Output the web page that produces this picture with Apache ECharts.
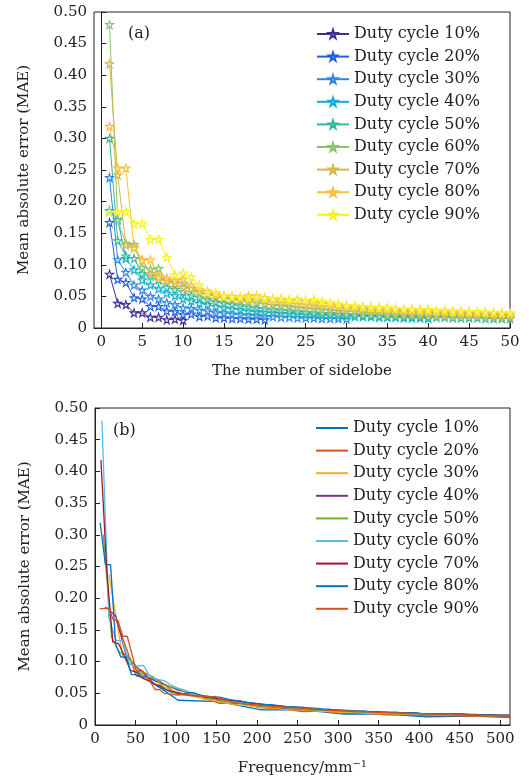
<!DOCTYPE html>
<html>
<head>
<meta charset="utf-8">
<script src="https://cdn.jsdelivr.net/npm/echarts@6/dist/echarts.min.js"></script>
<style>
  html, body { margin: 0; padding: 0; background: #fff; }
  #chart { width: 529px; height: 783px; }
</style>
</head>
<body>
<div id="chart"></div>
<script>
// legend names
const dutyNames = ['Duty cycle 10%', 'Duty cycle 20%', 'Duty cycle 30%', 'Duty cycle 40%', 'Duty cycle 50%',
  'Duty cycle 60%', 'Duty cycle 70%', 'Duty cycle 80%', 'Duty cycle 90%'];

// (a) MAE per sidelobe number (index 1..N)
const mae10 = [0.085,0.039,0.037,0.024,0.024,0.017,0.017,0.013,0.014,0.012];
const mae20 = [0.167,0.077,0.072,0.048,0.046,0.034,0.034,0.027,0.026,0.021,0.022,0.018,0.019,0.016,0.016,0.015,0.015,0.014,0.014,0.013];
const mae30 = [0.238,0.108,0.088,0.068,0.060,0.050,0.046,0.040,0.037,0.032,0.031,0.028,0.027,0.024,0.024,0.022,0.021,0.020,0.020,0.018,
  0.018,0.017,0.017,0.016,0.016,0.016,0.015,0.015,0.015,0.014];
const mae40 = [0.186,0.172,0.110,0.092,0.076,0.068,0.062,0.055,0.051,0.046,0.043,0.039,0.037,0.034,0.032,0.030,0.029,0.027,0.026,0.025,
  0.024,0.023,0.023,0.022,0.021,0.021,0.020,0.020,0.019,0.019,0.018,0.018,0.018,0.017,0.017,0.017,0.016,0.016,0.016,0.015];
const mae50 = [0.300,0.138,0.114,0.110,0.086,0.082,0.076,0.064,0.061,0.057,0.051,0.048,0.045,0.041,0.039,0.037,0.035,0.033,0.031,0.030,
  0.029,0.028,0.027,0.026,0.025,0.024,0.023,0.023,0.022,0.021,0.021,0.020,0.020,0.019,0.019,0.019,0.018,0.018,0.018,0.017,
  0.017,0.017,0.016,0.016,0.016,0.016,0.015,0.015,0.015,0.015];
const mae60 = [0.480,0.170,0.134,0.132,0.096,0.093,0.094,0.076,0.072,0.070,0.063,0.058,0.055,0.050,0.047,0.045,0.043,0.041,0.040,0.038,
  0.036,0.035,0.034,0.032,0.031,0.030,0.029,0.028,0.027,0.027,0.026,0.025,0.024,0.024,0.023,0.022,0.022,0.021,0.021,0.021,
  0.020,0.020,0.019,0.019,0.019,0.018,0.018,0.018,0.018,0.017];
const mae70 = [0.418,0.242,0.131,0.128,0.108,0.086,0.083,0.074,0.070,0.064,0.062,0.056,0.053,0.051,0.049,0.047,0.046,0.045,0.044,0.043,
  0.041,0.040,0.039,0.038,0.037,0.035,0.034,0.033,0.032,0.031,0.030,0.029,0.028,0.028,0.027,0.026,0.026,0.025,0.024,0.024,
  0.023,0.023,0.022,0.022,0.022,0.021,0.021,0.020,0.020,0.020];
const mae80 = [0.319,0.253,0.253,0.126,0.107,0.108,0.080,0.079,0.075,0.077,0.068,0.061,0.058,0.054,0.051,0.050,0.049,0.051,0.051,0.048,
  0.046,0.045,0.044,0.044,0.042,0.040,0.039,0.038,0.036,0.035,0.034,0.033,0.032,0.032,0.031,0.030,0.029,0.029,0.028,0.028,
  0.027,0.026,0.026,0.025,0.025,0.024,0.024,0.023,0.023,0.022];
const mae90 = [0.183,0.184,0.184,0.165,0.165,0.140,0.140,0.112,0.084,0.087,0.081,0.068,0.056,0.056,0.050,0.049,0.048,0.047,0.049,0.047,
  0.046,0.047,0.045,0.046,0.044,0.045,0.042,0.040,0.038,0.036,0.035,0.034,0.033,0.032,0.032,0.031,0.030,0.030,0.029,0.029,
  0.028,0.028,0.027,0.027,0.026,0.026,0.025,0.025,0.024,0.024];

// (b) sidelobes beyond 50 (only shown against frequency)
const ext60 = [0.017,0.017,0.017,0.016,0.017,0.016,0.016,0.016,0.015,0.016];
const ext70 = [0.020,0.019,0.019,0.019,0.018,0.018,0.018,0.018,0.017,0.017,0.017,0.017,0.016,0.016,0.016,0.016,0.016,0.015,0.015,0.015];
const ext80 = [0.022,0.022,0.021,0.021,0.021,0.020,0.020,0.020,0.019,0.019,0.019,0.019,0.018,0.018,0.018,0.018,0.017,0.017,0.017,0.017,
  0.017,0.016,0.016,0.016,0.016,0.016,0.015,0.015,0.015,0.015];
const ext90 = [0.023,0.023,0.023,0.022,0.022,0.022,0.021,0.021,0.021,0.020,0.020,0.020,0.020,0.019,0.019,0.019,0.019,0.018,0.018,0.018,
  0.018,0.018,0.017,0.017,0.017,0.017,0.017,0.016,0.016,0.016,0.016,0.016,0.016,0.015,0.015,0.015,0.015,0.015,0.015,0.015];

// frequency spacing of sidelobes (mm^-1) per duty cycle
const freqStep = [51.2, 25.6, 17.07, 12.8, 10.24, 8.53, 7.31, 6.4, 5.69];

const sidelobeTicks = [0, 5, 10, 15, 20, 25, 30, 35, 40, 45, 50];
const freqTicks = [0, 50, 100, 150, 200, 250, 300, 350, 400, 450, 500];

const topSets = [mae10, mae20, mae30, mae40, mae50, mae60, mae70, mae80, mae90];
const botSets = [mae10, mae20, mae30, mae40, mae50,
  mae60.concat(ext60), mae70.concat(ext70), mae80.concat(ext80), mae90.concat(ext90)];

const topColors = ['#3d2c9a', '#1f5fe0', '#2e88e2', '#0fb0d2', '#35b99b', '#8cc36d', '#d5b64a', '#fbbd3c', '#f7f313'];
const botColors = ['#0072BD', '#D95319', '#EDB120', '#7E2F8E', '#77AC30', '#4DBEEE', '#A2142F', '#0072BD', '#D95319'];

const STAR = 'path://M50,2 L61,36 L97,36 L68,57 L79,92 L50,71 L21,92 L32,57 L3,36 L39,36 Z';
const FONT = 'DejaVu Serif';
const INK = '#222';

// bottom series get an invisible suffix so each legend keeps its own icon
const botNames = dutyNames.map(function (n) { return n + '\u200b'; });

const chart = echarts.init(document.getElementById('chart'), null, { renderer: 'canvas' });

function maeLabel(v) { return v === 0 ? '0' : v.toFixed(2); }

function yAxisOf(gi) {
  return {
    type: 'value', gridIndex: gi, min: 0, max: 0.5, interval: 0.05,
    name: 'Mean absolute error (MAE)', nameLocation: 'middle', nameGap: 62,
    nameTextStyle: { fontFamily: FONT, fontSize: 15, color: INK },
    axisLine: { show: true, lineStyle: { color: INK, width: 1 } },
    axisTick: { show: true, inside: true, length: 5, lineStyle: { color: INK } },
    axisLabel: { fontFamily: FONT, fontSize: 15, color: INK, margin: 7, formatter: maeLabel },
    splitLine: { show: false }
  };
}

const series = [];
topSets.forEach(function (arr, i) {
  series.push({
    name: dutyNames[i], type: 'line', xAxisIndex: 0, yAxisIndex: 0,
    data: arr.map(function (v, k) { return [k + 1, v]; }),
    symbol: STAR, symbolSize: 8,
    lineStyle: { color: topColors[i], width: 1 },
    itemStyle: { color: 'rgba(255,255,255,0.5)', borderColor: topColors[i], borderWidth: 1.1 },
    emphasis: { disabled: true }, animation: false
  });
});
botSets.forEach(function (arr, i) {
  series.push({
    name: botNames[i], type: 'line', xAxisIndex: 1, yAxisIndex: 1,
    data: arr.map(function (v, k) { return [(k + 1) * freqStep[i], v]; }),
    symbol: 'none',
    lineStyle: { color: botColors[i], width: 1.3 },
    itemStyle: { color: botColors[i] },
    emphasis: { disabled: true }, animation: false
  });
});

const legendBase = {
  orient: 'vertical', left: 311, itemWidth: 32, itemHeight: 10, itemGap: 6.6,
  textStyle: { fontFamily: FONT, fontSize: 16, color: INK, lineHeight: 16 },
  selectedMode: false
};

chart.setOption({
  backgroundColor: '#fff',
  animation: false,
  title: [
    { text: '(a)', left: 123, top: 21, textStyle: { fontFamily: FONT, fontSize: 16, fontWeight: 'normal', color: INK } },
    { text: '(b)', left: 108, top: 418, textStyle: { fontFamily: FONT, fontSize: 16, fontWeight: 'normal', color: INK } }
  ],
  legend: [
    Object.assign({}, legendBase, { top: 21, data: dutyNames.slice() }),
    Object.assign({}, legendBase, { top: 415, icon: 'rect', itemHeight: 2, data: botNames.slice() })
  ],
  grid: [
    { left: 94, top: 12, width: 416, height: 316, show: true, borderColor: INK, borderWidth: 1 },
    { left: 95, top: 408, width: 415, height: 317, show: true, borderColor: INK, borderWidth: 1 }
  ],
  xAxis: [
    {
      type: 'value', gridIndex: 0, min: -0.9, max: 50,
      name: 'The number of sidelobe', nameLocation: 'middle', nameGap: 36,
      nameTextStyle: { fontFamily: FONT, fontSize: 15, color: INK },
      axisLine: { show: true, onZero: false, lineStyle: { color: INK, width: 1 } },
      axisTick: { show: true, inside: true, length: 5, customValues: sidelobeTicks, lineStyle: { color: INK } },
      axisLabel: { fontFamily: FONT, fontSize: 15, color: INK, margin: 7, customValues: sidelobeTicks },
      splitLine: { show: false }
    },
    {
      type: 'value', gridIndex: 1, min: 0, max: 512,
      name: 'Frequency/mm{sup|\u22121}', nameLocation: 'middle', nameGap: 34,
      nameTextStyle: { fontFamily: FONT, fontSize: 15, color: INK,
        rich: { sup: { fontFamily: FONT, fontSize: 10, color: INK, verticalAlign: 'top', padding: [0, 0, 8, 0] } } },
      axisLine: { show: true, onZero: false, lineStyle: { color: INK, width: 1 } },
      axisTick: { show: true, inside: true, length: 5, customValues: freqTicks, lineStyle: { color: INK } },
      axisLabel: { fontFamily: FONT, fontSize: 15, color: INK, margin: 7, customValues: freqTicks },
      splitLine: { show: false }
    }
  ],
  yAxis: [yAxisOf(0), yAxisOf(1)],
  series: series
});
</script>
</body>
</html>
